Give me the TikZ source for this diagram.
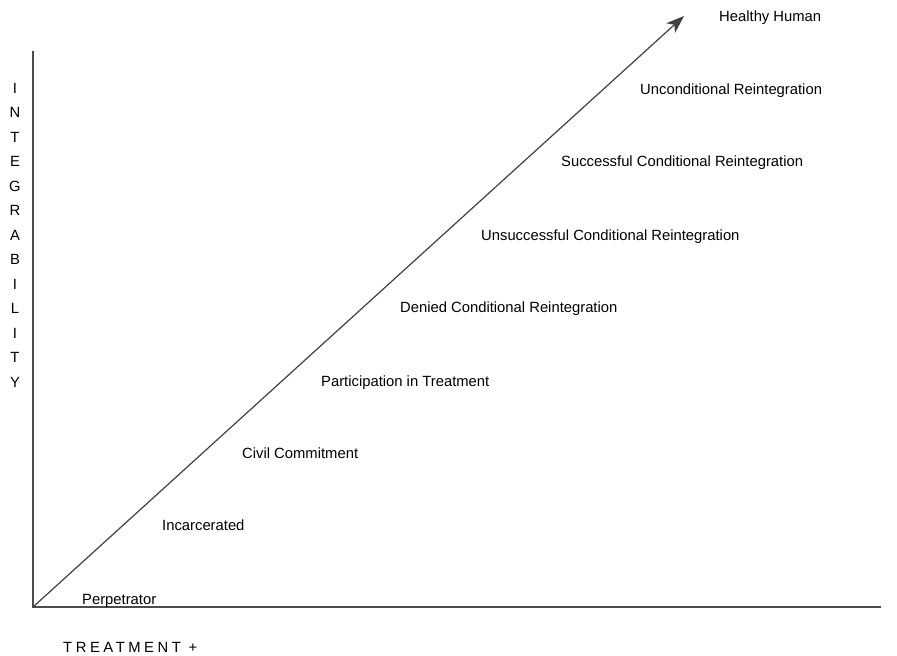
\documentclass[tikz,border=0pt]{standalone}
\usepackage{fontspec}
\setmainfont{Liberation Sans}
\usetikzlibrary{arrows.meta}

\begin{document}
\begin{tikzpicture}[x=1pt, y=-1pt,
				stage/.style={
				% The anchor:
				anchor=base west,
				% The size:
				inner sep=0pt,
				% The font:
				font=\fontsize{14.8}{17}\selectfont
				},
				axis/.style={
				% The line:
				line width=1.4pt,
				draw=black!70
				},
				]
    \tikzstyle{ylabel} = [align=center, inner sep=0pt, font=\fontsize{14.8}{24.5}\selectfont]
    \tikzstyle{xlabel} = [anchor=base west, inner sep=0pt, font=\fontsize{14.8}{17}\selectfont\addfontfeature{LetterSpace=24}]
    \useasboundingbox (0,0) rectangle (897,656);
    % axes
    \coordinate (origin) at (33,607);
    \coordinate (ytop) at (33,51);
    \coordinate (xend) at (881,607);
    \coordinate (tip) at (684,16);
    \draw [axis] (ytop) -- (origin) -- (xend);
    \draw [line width=1.2pt, draw=black!75, -{Stealth[length=18pt, width=13pt, inset=5pt]}] (origin) -- (tip);
    % axis labels
    \node [ylabel] (integrability) at (15,235) {I\\N\\T\\E\\G\\R\\A\\B\\I\\L\\I\\T\\Y};
    \node [xlabel] (treatment) at (63,652) {TREATMENT +};
    % stages
    \node [stage] (perp) at (82,604) {Perpetrator};
    \node [stage] (jail) at (162,530) {Incarcerated};
    \node [stage] (civil) at (242,458) {Civil Commitment};
    \node [stage] (participation) at (321,386) {Participation in Treatment};
    \node [stage] (denied) at (400,312) {Denied Conditional Reintegration};
    \node [stage] (unsucc) at (481,240) {Unsuccessful Conditional Reintegration};
    \node [stage] (succ) at (561,166) {Successful Conditional Reintegration};
    \node [stage] (uncond) at (640,94) {Unconditional Reintegration};
    \node [stage] (healthy) at (719,21) {Healthy Human};
\end{tikzpicture}
\end{document}
